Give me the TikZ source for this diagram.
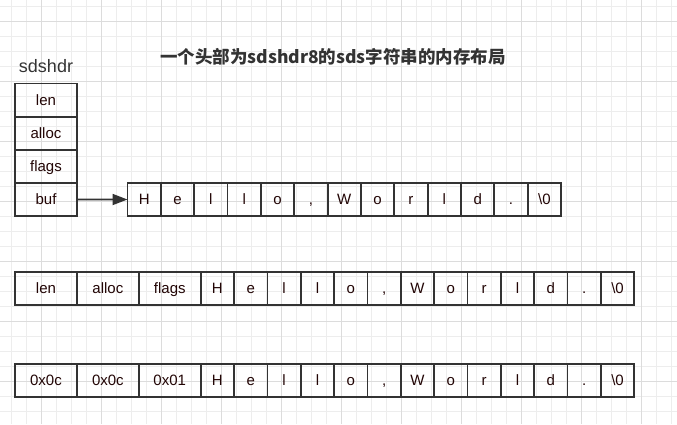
\documentclass[tikz,border=0pt]{standalone}
\usepackage{fontspec}
\setmainfont{Liberation Sans}
\newfontfamily\cjk{Noto Sans CJK SC}
\usetikzlibrary{arrows.meta}
\definecolor{txt}{HTML}{220505}
\definecolor{ln}{HTML}{333333}
\definecolor{gridlo}{HTML}{EDEDED}
\definecolor{gridhi}{HTML}{DCDCDC}
\newcommand\hellochars{H,e,l,l,o,{,},W,o,r,l,d,.,\textbackslash 0}
\tikzset{
  cell/.style={draw=ln, line width=1.8pt, minimum height=33pt, inner sep=0pt,
    outer sep=0pt, text=txt, font=\fontsize{15}{17}\selectfont, anchor=west,
    text height=12pt, text depth=1.5pt},
  chr/.style={cell, minimum width=33.35pt},
  fld/.style={cell, minimum width=61.9pt},
}

\begin{document}
\begin{tikzpicture}[x=1pt,y=-1pt]
\useasboundingbox (0,0) rectangle (677,424);
% background grid
\foreach \gx in {11.7,26.7,...,672} \draw[gridlo,line width=0.9pt] (\gx,0) -- (\gx,424);
\foreach \gy in {6.7,21.7,...,424} \draw[gridlo,line width=0.9pt] (0,\gy) -- (677,\gy);
\foreach \gx in {41.7,101.7,...,672} \draw[gridhi,line width=0.9pt] (\gx,0) -- (\gx,424);
\foreach \gy in {21.7,81.7,...,424} \draw[gridhi,line width=0.9pt] (0,\gy) -- (677,\gy);

\node[font=\cjk\fontsize{17.5}{20}\selectfont\bfseries, text=ln] (title) at (333,57) {一个头部为sdshdr8的sds字符串的内存布局};
\node[font=\fontsize{18}{20}\selectfont, text=ln] (name) at (46,66) {sdshdr};

% struct header
\foreach \f [count=\i] in {len,alloc,flags,buf}
  \node[fld, anchor=center] (h\i) at (46,{83.3+33.2*(\i-0.5)}) {\f};
\foreach \c [count=\i] in \hellochars
  \node[chr] (a\i) at ({127.5+33.35*(\i-1)},199.5) {\c};
\draw[ln, line width=1.8pt, -{Triangle[length=15pt,width=11pt]}] (h4) -- (a1);

% flat layout
\foreach \f [count=\i] in {len,alloc,flags}
  \node[fld] (b\i) at ({15+61.9*(\i-1)},288.7) {\f};
\foreach \c [count=\i] in \hellochars
  \node[chr] (bc\i) at ({200.7+33.35*(\i-1)},288.7) {\c};

% with values
\foreach \f [count=\i] in {0x0c,0x0c,0x01}
  \node[fld] (v\i) at ({15+61.9*(\i-1)},380.5) {\f};
\foreach \c [count=\i] in \hellochars
  \node[chr] (vc\i) at ({200.7+33.35*(\i-1)},380.5) {\c};
\end{tikzpicture}
\end{document}
